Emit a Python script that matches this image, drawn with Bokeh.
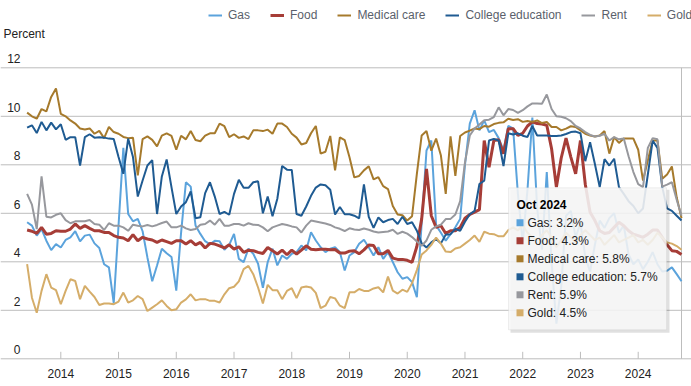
from bokeh.plotting import figure
from bokeh.models import Span, Label, BoxAnnotation, Legend, LegendItem, Range1d
from bokeh.embed import file_html
from bokeh.resources import INLINE

# ---------------- data (monthly, Jun 2013 .. Oct 2024) ----------------
start_year, start_month = 2013, 6

gas = [5.63, 5.49, 5.08, 5.35, 4.87, 4.48, 4.73,
       4.59, 4.90, 5.01, 5.26, 4.84, 5.08, 5.12, 4.76, 4.57, 3.90, 3.77, 2.30,
       5.50, 8.70, 5.97, 5.67, 5.77, 5.26, 4.18, 3.20, 3.85, 4.54, 4.35, 4.20,
       2.81, 5.20, 7.28, 7.10, 5.50, 5.15, 4.85, 4.72, 4.87, 4.85, 4.50, 4.70,
       5.15, 4.12, 3.99, 4.54, 4.33, 3.92, 2.93, 3.99, 4.54, 3.85, 4.26, 4.12,
       4.33, 4.40, 4.67, 4.47, 5.22, 4.88, 4.60, 4.40, 4.54, 4.60, 4.40, 3.64,
       4.26, 4.40, 4.74, 4.91, 4.60, 4.26, 4.60, 4.12, 4.40, 3.99, 3.57, 3.30,
       3.37, 3.16, 2.54, 5.60, 8.59, 9.00, 5.50, 5.20, 4.87, 5.14, 5.42, 5.77,
       8.00, 9.70, 10.25, 9.42, 9.83, 9.35, 9.44, 9.10, 8.60, 9.60, 9.50, 6.80,
       4.80, 7.00, 9.95, 6.20, 4.50, 7.70, 4.00, 1.45, 3.00, 5.90, 6.10, 5.00,
       5.60, 4.20, 3.60, 4.70, 5.70, 5.40, 5.80, 6.00, 5.20, 5.50, 4.30, 3.90,
       4.10, 3.70, 4.00, 4.40, 3.90, 3.60, 3.63, 3.77, 3.49, 3.20]

food = [5.31, 5.26, 5.17, 5.42, 5.14, 5.17, 5.28,
        5.26, 5.26, 5.35, 5.56, 5.38, 5.49, 5.38, 5.28, 5.28, 5.21, 5.21, 5.08,
        5.01, 4.98, 4.87, 5.12, 4.87, 5.01, 4.94, 4.90, 4.80, 4.90, 4.83, 4.76,
        4.87, 4.87, 4.73, 4.87, 4.70, 4.80, 4.57, 4.76, 4.73, 4.66, 4.57, 4.70,
        4.52, 4.62, 4.39, 4.48, 4.46, 4.39, 4.34, 4.59, 4.46, 4.32, 4.48, 4.29,
        4.48, 4.32, 4.48, 4.66, 4.52, 4.50, 4.52, 4.52, 4.50, 4.51, 4.36, 4.36,
        4.44, 4.46, 4.33, 4.49, 4.69, 4.67, 4.33, 4.33, 4.47, 4.15, 4.10, 4.10,
        4.06, 3.98, 4.63, 5.77, 7.83, 5.90, 5.42, 5.49, 5.17, 5.28, 5.28, 5.42,
        5.80, 5.95, 6.05, 6.15, 9.00, 7.90, 9.00, 9.03, 8.46, 9.49, 9.49, 9.21,
        9.30, 9.60, 9.77, 9.70, 9.68, 9.63, 8.66, 7.08, 8.28, 9.10, 8.32, 7.63,
        9.00, 7.20, 6.04, 5.70, 5.28, 5.17, 5.21, 5.42, 5.63, 5.49, 5.28, 5.14,
        5.08, 5.01, 5.14, 5.31, 5.31, 5.01, 4.70, 4.46, 4.43, 4.30]

medical = [10.15, 10.0, 9.9, 10.3, 10.2, 10.8, 11.15,
           10.1, 10.0, 9.83, 9.7, 9.5, 9.46, 9.5, 9.28, 9.4, 9.1, 9.56, 9.35,
           9.28, 9.15, 9.1, 9.12, 7.56, 9.06, 9.17, 9.03, 8.76, 9.2, 9.3, 9.19,
           8.62, 9.2, 9.05, 9.39, 9.02, 8.97, 9.2, 9.3, 9.3, 9.7, 9.59, 9.14,
           9.26, 9.11, 9.17, 9.06, 9.42, 9.42, 9.39, 9.45, 9.28, 9.7, 9.7, 9.56,
           9.28, 9.12, 8.84, 8.9, 9.3, 9.6, 8.46, 8.54, 9.19, 7.77, 9.13, 9.02,
           8.31, 7.48, 7.54, 7.77, 7.94, 7.4, 7.49, 7.12, 7.0, 6.3, 5.95, 5.92,
           5.7, 5.88, 7.63, 9.21, 9.39, 8.58, 9.08, 8.38, 6.8, 9.17, 7.54, 9.19,
           9.33, 9.41, 9.5, 9.47, 9.6, 9.57, 9.68, 9.73, 9.75, 9.9, 9.85, 9.88,
           9.77, 9.81, 9.77, 9.83, 9.72, 9.77, 9.56, 9.56, 9.42, 9.49, 9.59, 9.56,
           9.42, 9.28, 9.21, 9.17, 9.21, 9.39, 8.46, 9.14, 8.9, 9.08, 9.08, 9.08,
           8.62, 7.35, 8.18, 9.0, 9.0, 7.42, 7.6, 7.93, 6.66, 5.8]

college = [9.53, 9.63, 9.31, 9.77, 9.42, 9.74, 9.46,
           9.67, 9.03, 9.14, 9.14, 7.97, 9.14, 9.26, 9.12, 9.14, 9.12, 9.08, 9.06,
           8.32, 7.63, 9.08, 8.32, 6.69, 7.35, 7.97, 8.19, 5.97, 7.52, 8.22, 7.08,
           5.97, 6.28, 6.46, 6.9, 5.8, 5.84, 6.83, 7.28, 6.69, 5.97, 6.06, 5.94,
           6.8, 7.38, 7.05, 7.05, 7.28, 7.32, 6.0, 6.69, 5.88, 6.6, 7.95, 7.8,
           7.79, 5.97, 5.9, 6.28, 6.72, 7.06, 7.19, 7.16, 6.97, 5.95, 6.26, 5.96,
           5.96, 5.9, 5.79, 7.19, 5.85, 5.4, 5.83, 5.63, 5.72, 5.77, 5.56, 5.86,
           5.56, 5.63, 5.28, 4.76, 4.59, 4.8, 4.94, 4.76, 5.12, 5.14, 5.35, 5.28,
           5.65, 5.96, 6.1, 7.21, 7.35, 9.0, 9.07, 9.0, 7.95, 9.3, 9.25, 9.3,
           9.2, 9.15, 9.6, 9.21, 9.21, 9.21, 9.19, 9.19, 9.21, 9.27, 9.35, 9.37,
           9.3, 8.15, 8.93, 8.03, 7.08, 8.23, 7.97, 8.25, 7.08, 6.8, 6.5, 6.3,
           6.0, 6.2, 7.6, 9.0, 8.7, 7.08, 6.2, 6.1, 5.9, 5.7]

rent = [6.8, 6.36, 5.35, 7.52, 5.86, 5.83, 5.94,
        6.0, 5.72, 5.59, 5.67, 5.67, 5.67, 5.72, 5.56, 5.53, 5.31, 5.59, 5.49,
        5.49, 5.42, 5.28, 5.53, 5.49, 5.46, 5.52, 5.46, 5.52, 5.6, 5.66, 5.42,
        5.42, 5.49, 5.38, 5.31, 5.35, 5.53, 5.56, 5.7, 5.53, 5.77, 5.49, 5.49,
        5.56, 5.56, 5.49, 5.59, 5.53, 5.52, 5.42, 5.26, 5.42, 5.49, 5.56, 5.52,
        5.46, 5.42, 5.21, 5.49, 5.7, 5.66, 5.62, 5.58, 5.52, 5.42, 5.36, 5.27,
        5.38, 5.33, 5.31, 5.37, 5.32, 5.25, 5.21, 5.23, 5.25, 5.32, 5.15, 5.24,
        5.16, 5.02, 4.84, 4.66, 4.88, 5.32, 5.46, 5.53, 5.76, 5.77, 5.95, 6.5,
        8.1, 9.21, 9.5, 9.66, 9.84, 9.86, 9.97, 10.37, 10.04, 10.3, 10.26, 10.14,
        10.25, 10.41, 10.53, 10.53, 10.52, 10.9, 10.3, 10.0, 9.98, 9.92, 9.8, 9.6,
        9.5, 9.35, 9.23, 9.17, 9.2, 9.28, 9.0, 9.14, 9.05, 9.08, 8.35, 7.7,
        7.2, 7.08, 8.7, 9.1, 9.05, 7.1, 7.18, 7.28, 6.56, 5.9]

gold = [3.9, 2.52, 1.9, 2.8, 3.49, 2.94, 2.83,
        2.25, 2.8, 3.28, 3.21, 2.46, 3.01, 2.77, 2.55, 2.22, 2.28, 2.28, 2.25,
        2.36, 2.73, 2.32, 2.41, 2.59, 2.46, 1.97, 2.11, 2.25, 2.41, 2.18, 2.0,
        2.04, 2.32, 2.45, 2.66, 2.41, 2.46, 2.46, 2.39, 2.39, 2.32, 2.66, 2.91,
        2.97, 3.19, 3.7, 3.83, 3.49, 2.94, 2.28, 3.05, 2.83, 2.83, 2.46, 2.8,
        2.91, 2.5, 2.94, 2.98, 2.94, 2.72, 2.09, 2.19, 2.55, 2.49, 2.19, 2.09,
        2.74, 2.74, 2.88, 2.8, 2.8, 2.9, 2.95, 2.74, 3.39, 2.81, 2.69, 2.85,
        2.76, 3.12, 3.66, 4.3, 4.47, 4.7, 5.0, 4.75, 4.42, 4.4, 4.55, 4.6,
        4.75, 4.9, 5.08, 4.82, 5.24, 5.16, 5.14, 5.05, 5.05, 5.31, 5.42, 5.3,
        5.5, 5.2, 5.0, 4.9, 5.1, 5.3, 5.0, 4.6, 4.9, 5.2, 5.0, 4.8,
        5.1, 5.3, 5.1, 4.9, 5.0, 4.7, 4.9, 5.1, 4.8, 4.9, 5.0, 5.1,
        4.8, 4.9, 4.7, 4.9, 5.2, 5.0, 4.8, 4.75, 4.65, 4.5]

series_names = ["Gas", "Food", "Medical care", "College education", "Rent", "Gold"]
series_values = [gas, food, medical, college, rent, gold]
series_colors = ["#5ba3dc", "#a63d37", "#a67a2c", "#1f5b92", "#97989d", "#d5ad69"]
series_widths = [2, 3, 2, 2, 2, 2]
year_ticks = list(range(2014, 2025))
y_ticks = [0, 2, 4, 6, 8, 10, 12]
hover_label = "Oct 2024"
y_title = "Percent"

# ---------------- layout constants ----------------
FONT = "Liberation Sans"
W, H = 691, 386
PX_X = 57.74            # pixels per year
PX_Y = 24.25            # pixels per percentage point
ZERO_PX = 358.3         # canvas pixel row of the 0 baseline
FIRST_TICK_PX = 60.3    # canvas pixel column of the first year tick
X_START = year_ticks[0] - FIRST_TICK_PX / PX_X
X_END = X_START + W / PX_X
Y_TOP = ZERO_PX / PX_Y
Y_BOTTOM = -(H - ZERO_PX) / PX_Y
Y_MAX = y_ticks[-1]
GRID = "#bdbdbd"


def dx(px):
    return px / PX_X


def dy(px):
    return px / PX_Y


n = min(len(v) for v in series_values)
x = [start_year + (start_month - 1 + k) / 12 for k in range(n)]

p = figure(width=W, height=H, output_backend="svg", toolbar_location=None,
           x_range=Range1d(X_START, X_END), y_range=Range1d(Y_BOTTOM, Y_TOP),
           x_axis_location=None, y_axis_location=None,
           min_border_left=0, min_border_right=0, min_border_top=0, min_border_bottom=0,
           outline_line_color=None, background_fill_color="white",
           border_fill_color="white")
p.xgrid.grid_line_color = None
p.ygrid.grid_line_color = None

# horizontal gridlines
for t in y_ticks:
    p.add_layout(Span(location=t, dimension="width", line_color=GRID,
                      line_width=1, level="underlay"))

# x-axis ticks (pointing up from the baseline) and labels
p.segment(x0=year_ticks, y0=[0] * len(year_ticks), x1=year_ticks,
          y1=[dy(7)] * len(year_ticks), line_color=GRID, line_width=1)
for yr in year_ticks:
    p.add_layout(Label(x=yr, y=-dy(15), text=str(yr), text_align="center",
                       text_baseline="middle", text_font=FONT, text_font_size="12px",
                       text_color="#222222"))

# crosshair at hovered month
p.segment(x0=[x[n - 1]], y0=[0], x1=[x[n - 1]], y1=[Y_MAX], line_color=GRID, line_width=1)

renderers = []
for vals, c, w in zip(series_values, series_colors, series_widths):
    renderers.append(p.line(x, vals[:n], line_color=c, line_width=w))

legend = Legend(items=[LegendItem(label=nm, renderers=[r]) for nm, r in zip(series_names, renderers)],
                orientation="horizontal", location=(208, H - 22),
                glyph_width=14, glyph_height=14, label_height=14, label_standoff=6,
                spacing=20, padding=0, margin=0, border_line_color=None,
                background_fill_alpha=0, label_text_font=FONT,
                label_text_font_size="12px", label_text_color="#5a5f6b")
p.add_layout(legend)

# y tick labels (drawn above gridlines, inside the plot)
for t in y_ticks:
    p.add_layout(Label(x=X_START + dx(20), y=t + dy(9), text=str(t), text_align="right",
                       text_baseline="middle", text_font=FONT, text_font_size="12px",
                       text_color="#222222"))
p.add_layout(Label(x=X_START + dx(3), y=Y_MAX + dy(34), text=y_title, text_align="left",
                   text_baseline="middle", text_font=FONT, text_font_size="12px",
                   text_color="#222222"))

# tooltip box
tip_r = x[n - 1] - dx(15)
tip_l = tip_r - dx(158)
tip_t = Y_MAX - dy(120)
tip_b = tip_t - dy(142)
p.add_layout(BoxAnnotation(left=tip_l + dx(2), right=tip_r + dx(3), top=tip_t - dy(2),
                           bottom=tip_b - dy(3), fill_color="#000000", fill_alpha=0.12,
                           line_color=None))
p.add_layout(BoxAnnotation(left=tip_l, right=tip_r, top=tip_t, bottom=tip_b,
                           fill_color="#f7f7f7", fill_alpha=0.88, line_color="#cccccc",
                           line_width=1))
p.add_layout(Label(x=tip_l + dx(8), y=tip_t - dy(17), text=hover_label, text_align="left",
                   text_baseline="middle", text_font=FONT, text_font_size="12px",
                   text_font_style="bold", text_color="#000000"))
for k, (nm, vals, c) in enumerate(zip(series_names, series_values, series_colors)):
    ry = tip_t - dy(35 + 18 * k)
    p.add_layout(BoxAnnotation(left=tip_l + dx(8), right=tip_l + dx(15), top=ry + dy(3.5),
                               bottom=ry - dy(3.5), fill_color=c, fill_alpha=1,
                               line_color=None))
    p.add_layout(Label(x=tip_l + dx(19), y=ry, text=f"{nm}: {vals[n - 1]:.1f}%",
                       text_align="left", text_baseline="middle", text_font=FONT,
                       text_font_size="12px", text_color="#222222"))

open("out.html", "w").write(file_html(p, INLINE))
